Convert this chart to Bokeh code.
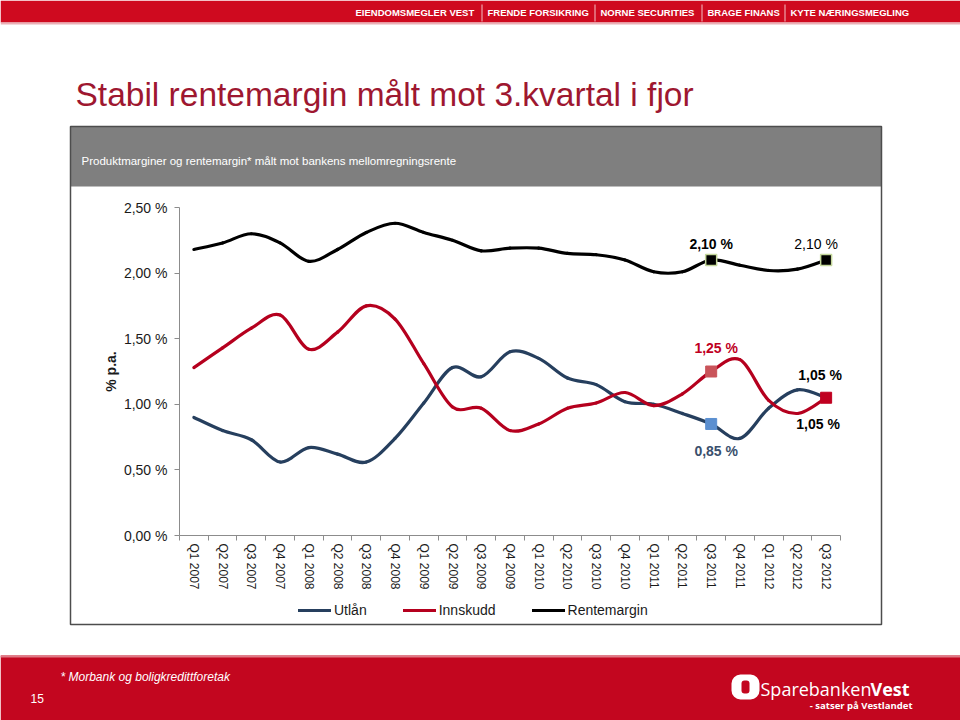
import math
from bokeh.plotting import figure
from bokeh.models import (Range1d, FixedTicker, BoxAnnotation, Label, Legend,
                          LegendItem, ColumnDataSource)
from bokeh.embed import file_html
from bokeh.resources import INLINE

# ---------------- data ----------------
quarters = ["Q1 2007", "Q2 2007", "Q3 2007", "Q4 2007",
            "Q1 2008", "Q2 2008", "Q3 2008", "Q4 2008",
            "Q1 2009", "Q2 2009", "Q3 2009", "Q4 2009",
            "Q1 2010", "Q2 2010", "Q3 2010", "Q4 2010",
            "Q1 2011", "Q2 2011", "Q3 2011", "Q4 2011",
            "Q1 2012", "Q2 2012", "Q3 2012"]
utlan = [0.90, 0.80, 0.73, 0.56, 0.67, 0.62, 0.56, 0.74, 1.01, 1.28, 1.21, 1.40,
         1.35, 1.20, 1.15, 1.02, 1.00, 0.93, 0.85, 0.74, 0.97, 1.11, 1.05]
innskudd = [1.28, 1.43, 1.58, 1.68, 1.42, 1.55, 1.75, 1.65, 1.31, 0.98, 0.97, 0.80,
            0.85, 0.97, 1.01, 1.09, 0.99, 1.08, 1.25, 1.34, 1.03, 0.93, 1.05]
rentemargin = [2.18, 2.23, 2.30, 2.23, 2.09, 2.18, 2.31, 2.38, 2.31, 2.25, 2.17, 2.19,
               2.19, 2.15, 2.14, 2.10, 2.01, 2.01, 2.10, 2.06, 2.02, 2.03, 2.10]
series_names = ["Utlån", "Innskudd", "Rentemargin"]
y_ticks = [0.0, 0.5, 1.0, 1.5, 2.0, 2.5]
y_tick_labels = ["0,00 %", "0,50 %", "1,00 %", "1,50 %", "2,00 %", "2,50 %"]
y_axis_label = "% p.a."
title_text = "Stabil rentemargin målt mot 3.kvartal i fjor"
subtitle_text = "Produktmarginer og rentemargin* målt mot bankens mellomregningsrente"
footnote_text = "* Morbank og boligkredittforetak"
page_number = "15"
banner_items = ["EIENDOMSMEGLER VEST", "FRENDE FORSIKRING", "NORNE SECURITIES",
                "BRAGE FINANS", "KYTE NÆRINGSMEGLING"]
highlight_quarters = ["Q3 2011", "Q3 2012"]

# ---------------- style ----------------
C_UTLAN = "#263f5e"
C_INNSKUDD = "#b5001e"
C_RENTE = "#000000"
RED_BANNER = "#cf0a1f"
RED_FOOTER = "#c3061f"
TITLE_RED = "#9e1730"
FONT = "Liberation Sans"

W, H = 960, 720

# plot area in canvas pixels (top-left origin)
PL, PR, PT, PB = 179, 840, 207, 535
n = len(quarters)
xs = list(range(n))
x_px = (PR - PL) / n
y_px = (PB - PT) / 2.5
x_start = -0.5 - PL / x_px
x_end = x_start + W / x_px
y_start = -(H - PB) / y_px
y_end = 2.5 + PT / y_px

p = figure(width=W, height=H, output_backend="svg", toolbar_location=None,
           x_range=Range1d(x_start, x_end), y_range=Range1d(y_start, y_end),
           min_border=0)
p.outline_line_color = None
p.xgrid.visible = False
p.ygrid.visible = False
p.background_fill_color = "white"
p.border_fill_color = "white"


# ---------------- helpers (pixel coords, top-left origin -> screen units) ----------------
def sx(x):
    return x


def sy(y):
    return H - y


def box(left, right, top, bottom, fill=None, line=None, lw=1, **kw):
    b = BoxAnnotation(left=sx(left), right=sx(right), top=sy(top), bottom=sy(bottom),
                      left_units="screen", right_units="screen",
                      top_units="screen", bottom_units="screen",
                      fill_color=fill if fill else "white", fill_alpha=1 if fill else 0,
                      line_color=line if line else "white", line_width=lw,
                      line_alpha=1 if line else 0, **kw)
    p.add_layout(b)
    return b


def label(x, y, text, size, color="black", font=FONT, style="normal",
          align="left", baseline="middle"):
    lb = Label(x=sx(x), y=sy(y), x_units="screen", y_units="screen", text=text,
               text_font=font, text_font_size=size, text_color=color,
               text_font_style=style, text_align=align, text_baseline=baseline)
    p.add_layout(lb)
    return lb


# ---------------- page decorations ----------------
box(0, 960, 0, 22, fill=RED_BANNER)
box(0, 960, 22, 24, fill="#eab0b6")
banner_x = [355, 487, 600, 707, 790]
for bx, txt in zip(banner_x, banner_items):
    label(bx, 12, txt, "9.5px", color="white", style="bold")
for sep in [481, 594, 701, 784]:
    box(sep, sep + 1, 4, 21, fill="#f3c0c5")

label(75, 94, title_text, "33.5px", color=TITLE_RED)

box(70, 881, 126, 186, fill="#7f7f7f")
box(70, 881, 126, 624, line="#4d4d4d", lw=1.5)
label(81, 160, subtitle_text, "11.5px", color="white")

box(0, 960, 655, 720, fill=RED_FOOTER)
box(0, 960, 655, 657, fill="#e07a86")
label(60, 676, footnote_text, "12px", color="white", style="italic")
label(30, 698, page_number, "12px", color="white")
box(731, 759, 674, 699, fill="white", border_radius=9)
box(741, 749, 680, 693, fill=RED_FOOTER, border_radius=3)
label(871, 688, "Sparebanken", "18px", color="white", font="Open Sans", align="right")
label(870, 688, "Vest", "18px", color="white", font="Open Sans", style="bold", align="left")
label(912, 705, "- satser på Vestlandet", "9.5px", color="white", font="Open Sans",
      style="bold", align="right")

# ---------------- axes ----------------
ya = p.yaxis[0]
ya.fixed_location = -0.5
ya.bounds = (0, 2.5)
ya.ticker = FixedTicker(ticks=y_ticks)
ya.major_label_overrides = {t: l for t, l in zip(y_ticks, y_tick_labels)}
ya.axis_line_color = "#8c8c8c"
ya.major_tick_line_color = "#8c8c8c"
ya.major_tick_in = 0
ya.major_tick_out = 5
ya.minor_tick_line_color = None
ya.major_label_text_font = FONT
ya.major_label_text_font_size = "14px"
ya.major_label_text_color = "#1a1a1a"
ya.major_label_standoff = 7
ya.axis_label = y_axis_label
ya.axis_label_text_font = FONT
ya.axis_label_text_font_size = "14px"
ya.axis_label_text_font_style = "bold"
ya.axis_label_text_color = "#1a1a1a"
ya.axis_label_standoff = 2

xa = p.xaxis[0]
xa.fixed_location = 0
xa.bounds = (-0.5, n - 0.5)
xa.ticker = FixedTicker(ticks=xs, minor_ticks=[i - 0.5 for i in range(n + 1)])
xa.major_label_overrides = {i: q for i, q in enumerate(quarters)}
xa.major_label_orientation = -math.pi / 2
xa.axis_line_color = "#8c8c8c"
xa.major_tick_line_color = None
xa.major_tick_in = 0
xa.major_tick_out = 0
xa.minor_tick_line_color = "#8c8c8c"
xa.minor_tick_in = 0
xa.minor_tick_out = 5
xa.major_label_text_font = FONT
xa.major_label_text_font_size = "12px"
xa.major_label_text_color = "#1a1a1a"
xa.major_label_standoff = 3


# ---------------- smoothed lines (cubic Bezier through the data points) ----------------
def bezier_source(ys):
    d = dict(x0=[], y0=[], x1=[], y1=[], cx0=[], cy0=[], cx1=[], cy1=[])
    for i in range(n - 1):
        im = max(i - 1, 0)
        ip = min(i + 2, n - 1)
        d["x0"].append(xs[i]); d["y0"].append(ys[i])
        d["x1"].append(xs[i + 1]); d["y1"].append(ys[i + 1])
        d["cx0"].append(xs[i] + (xs[i + 1] - xs[im]) / 6.0)
        d["cy0"].append(ys[i] + (ys[i + 1] - ys[im]) / 6.0)
        d["cx1"].append(xs[i + 1] - (xs[ip] - xs[i]) / 6.0)
        d["cy1"].append(ys[i + 1] - (ys[ip] - ys[i]) / 6.0)
    return ColumnDataSource(d)


renderers = []
for ys, col in [(utlan, C_UTLAN), (innskudd, C_INNSKUDD), (rentemargin, C_RENTE)]:
    r = p.bezier(x0="x0", y0="y0", x1="x1", y1="y1", cx0="cx0", cy0="cy0",
                 cx1="cx1", cy1="cy1", source=bezier_source(ys),
                 line_color=col, line_width=3.2, line_cap="round", line_join="round")
    renderers.append(r)

# ---- highlight markers ----
hi = [quarters.index(q) for q in highlight_quarters]
p.scatter([hi[0], hi[1]], [rentemargin[hi[0]], rentemargin[hi[1]]], marker="square",
          size=11, fill_color="black", line_color="#c4d79b", line_width=1.5)
p.scatter([hi[0]], [innskudd[hi[0]]], marker="square", size=11,
          fill_color="#c9545a", line_color="#c9545a")
p.scatter([hi[1]], [innskudd[hi[1]]], marker="square", size=11,
          fill_color="#c00020", line_color="#c00020")
p.scatter([hi[0]], [utlan[hi[0]]], marker="square", size=11,
          fill_color="#5b8fd0", line_color="#5b8fd0")


def fmt(v):
    return ("%.2f" % v).replace(".", ",") + " %"


lab_x = [hi[0], hi[1], hi[0], hi[0], hi[1], hi[1]]
lab_y = [rentemargin[hi[0]], rentemargin[hi[1]], innskudd[hi[0]], utlan[hi[0]],
         utlan[hi[1]], innskudd[hi[1]]]
lab_src = ColumnDataSource(dict(
    x=lab_x, y=lab_y, text=[fmt(v) for v in lab_y],
    dx=[0, -10, 5, 5, -6, -8], dy=[-16, -16, -24, 27, -23, 26],
    color=["#000000", "#000000", "#c0001f", "#3a4f6d", "#000000", "#000000"],
    style=["bold", "normal", "bold", "bold", "bold", "bold"]))
p.text(x="x", y="y", text="text", x_offset="dx", y_offset="dy", source=lab_src,
       text_color="color", text_font_style="style", text_font_size="14px",
       text_align="center", text_baseline="middle", text_font={"value": FONT})

# ---- legend ----
legend = Legend(items=[LegendItem(label=nm, renderers=[r]) for nm, r in zip(series_names, renderers)],
                orientation="horizontal", location=(sx(298), sy(620)),
                border_line_color=None, background_fill_alpha=0,
                padding=0, margin=0, spacing=36, label_standoff=3,
                glyph_width=33, glyph_height=20, label_height=20,
                label_text_font=FONT, label_text_font_size="14px",
                label_text_color="#1a1a1a")
p.add_layout(legend)

open("out.html", "w").write(file_html(p, INLINE))
